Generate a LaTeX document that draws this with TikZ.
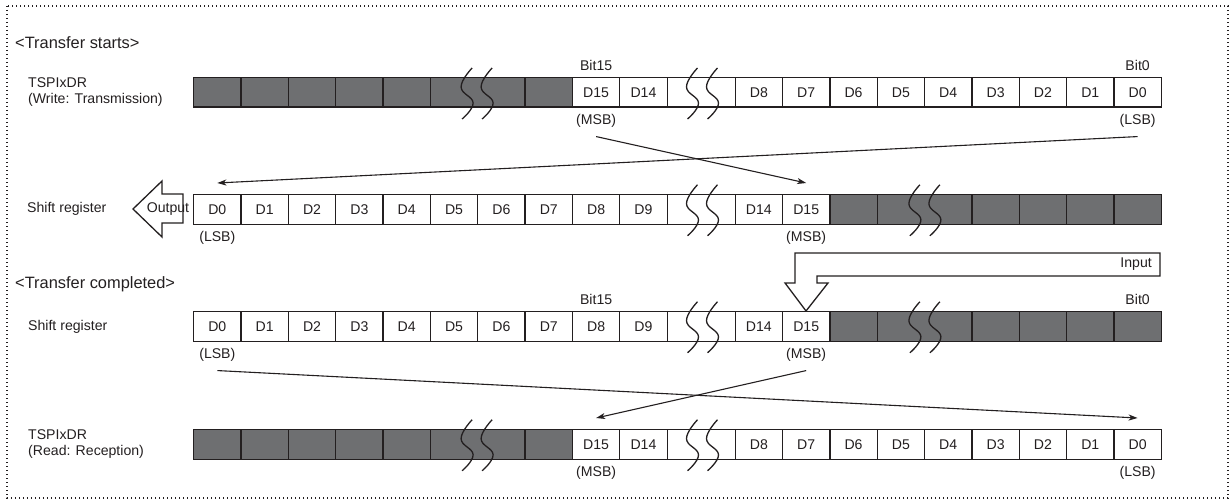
\documentclass[tikz,border=0pt]{standalone}
\usepackage{fontspec}
\setmainfont{Liberation Sans}
\usetikzlibrary{arrows.meta}
\definecolor{ink}{RGB}{35,31,32}
\definecolor{gfill}{RGB}{110,111,113}
\newcommand\brkS[2]{\draw[brkline] plot[smooth,tension=0.75] coordinates {({#1+5},{#2-24}) ({#1-6},{#2-5}) ({#1+6},{#2+11}) ({#1-5},{#2+27})};}
\newcommand\brkPair[2]{\brkS{#1-10}{#2}\brkS{#1+10}{#2}}
\begin{document}
\begin{tikzpicture}[x=1pt,y=-1pt,font=\fontsize{14.1}{15.5}\selectfont,
  cellb/.style={draw=ink,line width=1.3pt,minimum width=47.35pt,minimum height=29.5pt,inner sep=0pt,anchor=north west,text=ink},
  wc/.style={cellb,fill=white},
  gc/.style={cellb,fill=gfill},
  lbl/.style={inner sep=0pt,text=ink},
  head/.style={lbl,anchor=west,font=\fontsize{16.4}{18}\selectfont},
  conn/.style={draw=ink,line width=1.1pt,-{Stealth[length=9pt,width=6pt,inset=2.5pt]}},
  brkline/.style={draw=ink,line width=1.3pt},
  frame/.style={draw=ink,line width=1.2pt,dash pattern=on 1.2pt off 2.8pt},
  hollow/.style={draw=ink,line width=1.3pt,fill=white,line join=miter}]
\useasboundingbox (0,0) rectangle (1231,500);
\draw[frame] (7,6) rectangle (1228,498);

% headings and row names
\node[head] (h1) at (15,43) {<Transfer starts>};
\node[lbl,anchor=west,align=left] (n1) at (28,92) {TSPIxDR\\(Write: Transmission)};
\node[lbl,anchor=west] (n2) at (27,209) {Shift register};
\node[head] (h2) at (15,284) {<Transfer completed>};
\node[lbl,anchor=west] (n3) at (28,327) {Shift register};
\node[lbl,anchor=west,align=left] (n4) at (28,444) {TSPIxDR\\(Read: Reception)};

% row 1
\foreach \k in {0,...,4} \node[gc] (r1s\k) at ({193+47.35*\k},77) {};
\node[gc,minimum width=94.7pt] (r1b) at (429.75,77) {};
\node[gc] (r1s7) at (524.45,77) {};
\node[wc] (r1s8) at (571.8,77) {D15};
\node[wc] (r1s9) at (619.15,77) {D14};
\node[wc,minimum width=68pt] (r1s10) at (666.5,77) {};
\foreach \k/\t in {11/D8,12/D7,13/D6,14/D5,15/D4,16/D3,17/D2,18/D1,19/D0}
  \node[wc] (r1s\k) at ({734.5+47.35*(\k-11)},77) {\t};

% row 2
\foreach \k in {0,...,9} \node[wc] (r2s\k) at ({193+47.35*\k},194) {D\k};
\node[wc,minimum width=68pt] (r2s10) at (666.5,194) {};
\node[wc] (r2s11) at (734.5,194) {D14};
\node[wc] (r2s12) at (781.85,194) {D15};
\node[gc] (r2s13) at (829.2,194) {};
\node[gc,minimum width=94.7pt] (r2b) at (876.55,194) {};
\foreach \k in {16,...,19} \node[gc] (r2s\k) at ({734.5+47.35*(\k-11)},194) {};

% input arrow
\draw[hollow] (795,253) -- (1160,253) -- (1160,276) -- (817,276) -- (817,283) -- (828,283) -- (806,311) -- (785,283) -- (795,283) -- cycle;
\node[lbl,anchor=east] (inp) at (1152,264.5) {Input};

% row 3
\foreach \k in {0,...,9} \node[wc] (r3s\k) at ({193+47.35*\k},311) {D\k};
\node[wc,minimum width=68pt] (r3s10) at (666.5,311) {};
\node[wc] (r3s11) at (734.5,311) {D14};
\node[wc] (r3s12) at (781.85,311) {D15};
\node[gc] (r3s13) at (829.2,311) {};
\node[gc,minimum width=94.7pt] (r3b) at (876.55,311) {};
\foreach \k in {16,...,19} \node[gc] (r3s\k) at ({734.5+47.35*(\k-11)},311) {};

% row 4
\foreach \k in {0,...,4} \node[gc] (r4s\k) at ({193+47.35*\k},429) {};
\node[gc,minimum width=94.7pt] (r4b) at (429.75,429) {};
\node[gc] (r4s7) at (524.45,429) {};
\node[wc] (r4s8) at (571.8,429) {D15};
\node[wc] (r4s9) at (619.15,429) {D14};
\node[wc,minimum width=68pt] (r4s10) at (666.5,429) {};
\foreach \k/\t in {11/D8,12/D7,13/D6,14/D5,15/D4,16/D3,17/D2,18/D1,19/D0}
  \node[wc] (r4s\k) at ({734.5+47.35*(\k-11)},429) {\t};

% break marks
\brkPair{477.1}{92}\brkPair{702.5}{92}
\brkPair{702.5}{208.75}\brkPair{924.9}{208.75}
\brkPair{702.5}{325.75}\brkPair{924.9}{325.75}
\brkPair{477.1}{443.75}\brkPair{702.5}{443.75}

% bit labels
\node[lbl] (b15a) at ([yshift=12pt]r1s8.north) {Bit15};
\node[lbl] (b0a) at ([yshift=12pt]r1s19.north) {Bit0};
\node[lbl] (msb1) at ([yshift=-13pt]r1s8.south) {(MSB)};
\node[lbl] (lsb1) at ([yshift=-13pt]r1s19.south) {(LSB)};
\node[lbl] (lsb2) at ([yshift=-13pt]r2s0.south) {(LSB)};
\node[lbl] (msb2) at ([yshift=-13pt]r2s12.south) {(MSB)};
\node[lbl] (b15b) at ([yshift=12pt]r3s8.north) {Bit15};
\node[lbl] (b0b) at ([yshift=12pt]r3s19.north) {Bit0};
\node[lbl] (lsb3) at ([yshift=-13pt]r3s0.south) {(LSB)};
\node[lbl] (msb3) at ([yshift=-13pt]r3s12.south) {(MSB)};
\node[lbl] (msb4) at ([yshift=-13pt]r4s8.south) {(MSB)};
\node[lbl] (lsb4) at ([yshift=-13pt]r4s19.south) {(LSB)};

% output arrow
\draw[hollow] (133,209) -- (162,181) -- (162,194) -- (183,194) -- (183,223) -- (162,223) -- (162,237) -- cycle;
\node[lbl] (outp) at (168,209) {Output};

% connectors
\draw[conn] ([yshift=-9pt]msb1.south) -- ([yshift=11pt]r2s12.north);
\draw[conn] ([yshift=-9pt]lsb1.south) -- ([yshift=11pt]r2s0.north);
\draw[conn] ([yshift=-9pt]msb3.south) -- ([yshift=11pt]r4s8.north);
\draw[conn] ([yshift=-9pt]lsb3.south) -- ([yshift=11pt]r4s19.north);
\end{tikzpicture}
\end{document}
